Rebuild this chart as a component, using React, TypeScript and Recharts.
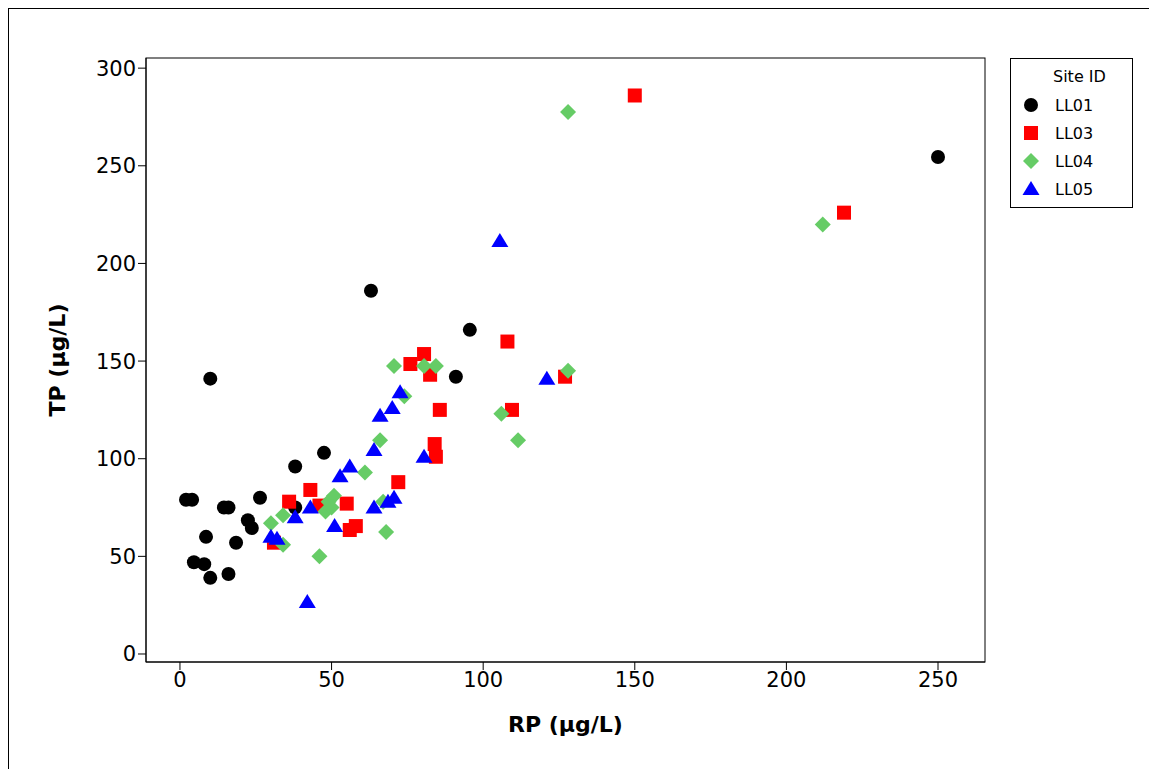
import React from 'react';
import { ScatterChart, Scatter, XAxis, YAxis, ZAxis } from 'recharts';

const ll01 = [[2,79],[4,79],[10,141],[4.6,47],[8,46],[8.6,60],[10,39],[14.5,75],[16,75],[16,41],[18.5,57],[22.4,68.5],[23.7,64.5],[26.4,80],[38,75],[38,96],[47.5,103],[63,186],[91,142],[95.6,166],[250,254.5]];
const ll03 = [[31,57],[36,78],[43,84],[46,76],[55,77],[56,63.5],[58,65.5],[72,88],[76,148.5],[80.5,153.6],[82.5,143],[85.7,125],[84,107.5],[84.4,101],[108,160],[109.5,125],[127,142],[150,286],[219,226]];
const ll04 = [[30,67],[34,71],[34,56],[46,50],[48,73],[49,78],[50.8,81],[50,75],[61,93],[66,109.5],[67,78],[68,62.5],[70.6,147.5],[74,132],[80.5,147.5],[84.4,147.5],[106,123],[111.5,109.5],[128,145],[128,277.5],[212,220]];
const ll05 = [[30,60],[32,59],[38,70],[43,75],[42,26.6],[51,65.5],[52.8,91],[56,96],[64,104.5],[64,75],[66,122],[70,126],[68.6,78],[70.6,80],[72.6,134],[80.5,101],[105.5,211.5],[121,141]];

const xTicks = [0, 50, 100, 150, 200, 250];
const yTicks = [0, 50, 100, 150, 200, 250, 300];

const toPts = (a: number[][]) => a.map(([x, y]) => ({ x, y }));

const series = [
  { name: 'LL01', data: ll01, color: '#000000', shape: 'circle' },
  { name: 'LL03', data: ll03, color: '#ff0000', shape: 'square' },
  { name: 'LL04', data: ll04, color: '#66cc66', shape: 'diamond' },
  { name: 'LL05', data: ll05, color: '#0000ff', shape: 'triangle' },
];

const Marker = ({ cx, cy, shape, color }: any) => {
  if (shape === 'circle') return <circle cx={cx} cy={cy} r={7} fill={color} />;
  if (shape === 'square') return <rect x={cx - 7} y={cy - 7} width={14} height={14} fill={color} />;
  if (shape === 'diamond')
    return <polygon points={`${cx},${cy - 8} ${cx + 8},${cy} ${cx},${cy + 8} ${cx - 8},${cy}`} fill={color} />;
  return <polygon points={`${cx},${cy - 8} ${cx + 8.5},${cy + 6} ${cx - 8.5},${cy + 6}`} fill={color} />;
};

const LegendBox = () => (
  <div style={{ position: 'absolute', left: 1010, top: 58, border: '1px solid #000', width: 123, height: 150, background: '#fff', fontFamily: 'DejaVu Sans', fontSize: 16, boxSizing: 'border-box' }}>
    <div style={{ paddingLeft: 42, marginTop: 8, height: 24 }}>Site ID</div>
    {series.map((s) => (
      <div key={s.name} style={{ display: 'flex', alignItems: 'center', height: 28 }}>
        <svg width={40} height={20}><Marker cx={20} cy={10} shape={s.shape} color={s.color} /></svg>
        <span style={{ marginLeft: 4 }}>{s.name}</span>
      </div>
    ))}
  </div>
);

export default function App() {
  return (
    <div style={{ position: 'absolute', left: 0, top: 0, width: 1149, height: 769, background: '#fff' }}>
      <div style={{ position: 'absolute', left: 8, top: 8, width: 1160, height: 800, border: '1px solid #000' }} />
      <ScatterChart width={1149} height={769} margin={{ top: 58, right: 164, bottom: 47, left: 0 }}
        style={{ fontFamily: 'DejaVu Sans' }}>
        <XAxis type="number" dataKey="x" domain={[-11.2, 265.5]} ticks={xTicks} allowDataOverflow height={60}
          tick={{ fill: '#000', fontSize: 21 }} tickSize={8} stroke="#000"
          label={{ value: 'RP (µg/L)', position: 'insideBottom', offset: -10, fill: '#000', fontSize: 22, fontWeight: 'bold' }} />
        <YAxis type="number" dataKey="y" domain={[-4.1, 305.2]} ticks={yTicks} allowDataOverflow width={146}
          tick={{ fill: '#000', fontSize: 21 }} tickSize={8} stroke="#000"
          label={{ value: 'TP (µg/L)', angle: -90, position: 'insideLeft', offset: 57, fill: '#000', fontSize: 22, fontWeight: 'bold', style: { textAnchor: 'middle' } }} />
        <ZAxis range={[100, 100]} />
        <rect x={146} y={58} width={839} height={604} fill="none" stroke="#000" />
        {series.map((s) => (
          <Scatter key={s.name} name={s.name} data={toPts(s.data)} fill={s.color} isAnimationActive={false}
            shape={(p: any) => <Marker cx={p.cx} cy={p.cy} shape={s.shape} color={s.color} />} />
        ))}
      </ScatterChart>
      <LegendBox />
    </div>
  );
}
